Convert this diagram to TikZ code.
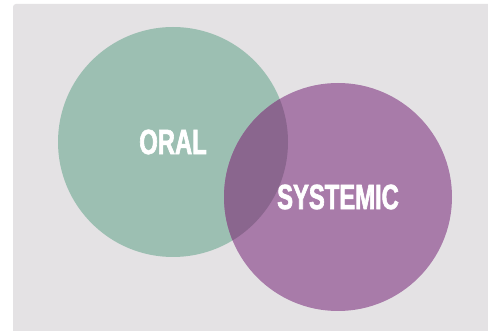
\documentclass[tikz,border=0pt]{standalone}
\usepackage{fontspec}
\usepackage{xcolor}
\usepackage{tikz}
\usetikzlibrary{positioning}
\newfontfamily\condfont[FakeStretch=0.68,FakeBold=1.8]{Liberation Sans}
\definecolor{vgray}{RGB}{228,226,228}
\definecolor{vgreen}{RGB}{156,191,178}
\definecolor{vpurple}{RGB}{168,123,169}
\definecolor{vboth}{RGB}{138,102,142}
\tikzset{
  disc/.style ={circle, inner sep=0pt, minimum size=230pt},
  word/.style ={text=white, font=\condfont\fontsize{35}{35}\bfseries\selectfont,
                inner sep=0pt}
}
\begin{document}
\begin{tikzpicture}[x=1pt,y=-1pt]
\useasboundingbox (0,0) rectangle (488,331);
\fill[white] (0,0) rectangle (488,331);
\fill[vgray, rounded corners=3pt] (13,4) rectangle (492,335);

\node[disc, fill=vgreen]  (oral)     at (173,142) {};
\node[disc, fill=vpurple, minimum size=228pt] (systemic) at (338,197) {};
\begin{scope}
  \clip (oral.center) circle (115pt);
  \fill[vboth] (systemic.center) circle (114pt);
\end{scope}

\node[word] (oraltxt) at (oral.center) {ORAL};
\node[word] (systxt)  at (systemic.center) {SYSTEMIC};
\end{tikzpicture}
\end{document}
